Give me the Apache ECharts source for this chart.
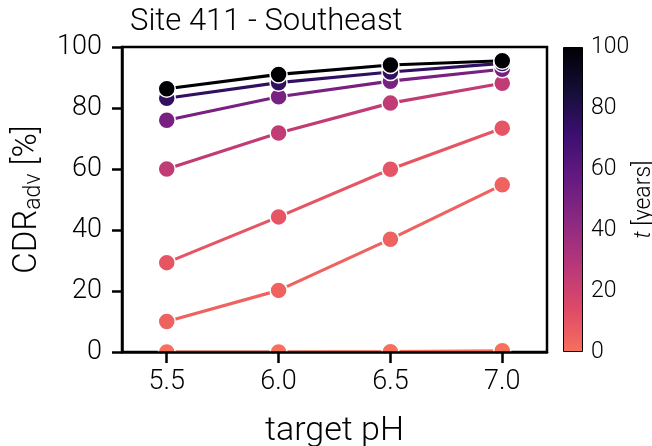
<!DOCTYPE html>
<html>
<head>
<meta charset="utf-8">
<script src="https://cdn.jsdelivr.net/npm/echarts@6/dist/echarts.min.js"></script>
<style>
  html, body { margin: 0; padding: 0; background: #fff; }
  #chart { width: 652px; height: 446px; }
</style>
</head>
<body>
<div id="chart"></div>
<script>
// data
const phValues = [5.5, 6.0, 6.5, 7.0];
const tYears = [0, 5, 10, 25, 50, 75, 100];
const cdr0 = [0, 0, 0.1, 0.4];
const cdr5 = [10.0, 20.2, 37.0, 54.8];
const cdr10 = [29.3, 44.3, 59.9, 73.4];
const cdr25 = [60.0, 71.8, 81.6, 88.1];
const cdr50 = [76.0, 83.7, 88.8, 92.7];
const cdr75 = [83.2, 88.3, 91.8, 94.6];
const cdr100 = [86.3, 91.0, 94.1, 95.5];
const cdrByT = [cdr0, cdr5, cdr10, cdr25, cdr50, cdr75, cdr100];
const xTicks = [5.5, 6.0, 6.5, 7.0];

// magma colormap, 0..0.7 used (t=100 -> 0, t=0 -> 0.7)
const magma = ["#000004", "#140e36", "#3b0f70", "#641a80", "#8c2981",
  "#b73779", "#de4968", "#f7705c"];

function hex2rgb(h) {
  return [1, 3, 5].map((i) => parseInt(h.slice(i, i + 2), 16));
}
function magmaAt(f) {
  const p = Math.min(Math.max(f / 0.1, 0), magma.length - 1);
  const i = Math.min(Math.floor(p), magma.length - 2);
  const r = p - i;
  const a = hex2rgb(magma[i]), b = hex2rgb(magma[i + 1]);
  const c = a.map((v, k) => Math.round(v + (b[k] - v) * r));
  return `rgb(${c[0]},${c[1]},${c[2]})`;
}
const tColor = (t) => magmaAt(0.7 * (1 - t / 100));

const font = "Roboto";
const weight = 300;
const gridLeft = 122, gridTop = 47, gridWidth = 425, gridHeight = 305;

const chart = echarts.init(document.getElementById("chart"));
chart.setOption({
  animation: false,
  textStyle: { fontFamily: font, fontWeight: weight, color: "#000" },
  title: {
    text: "Site 411 - Southeast",
    left: 130,
    top: 7,
    padding: 0,
    textStyle: { fontFamily: font, fontSize: 31, fontWeight: weight, color: "#000" },
  },
  grid: [
    {
      left: gridLeft, top: gridTop, width: gridWidth, height: gridHeight,
      outerBoundsMode: "none",
      show: true, borderColor: "#000", borderWidth: 2.5,
    },
    { left: 563, top: gridTop, width: 20, height: gridHeight, outerBoundsMode: "none" },
  ],
  xAxis: [
    {
      type: "value",
      gridIndex: 0,
      min: 5.3,
      max: 7.2,
      z: 10,
      name: "target pH",
      nameLocation: "middle",
      nameGap: 62,
      nameTextStyle: { fontFamily: font, fontWeight: weight, fontSize: 34, color: "#000" },
      axisLine: { show: true, lineStyle: { color: "#000", width: 2.5 } },
      axisTick: { customValues: xTicks, length: 11, lineStyle: { color: "#000", width: 2.5 } },
      axisLabel: {
        customValues: xTicks,
        formatter: (v) => v.toFixed(1),
        fontSize: 27, fontWeight: weight, margin: 17, color: "#000",
      },
      splitLine: { show: false },
    },
    {
      type: "category",
      gridIndex: 1,
      data: [""],
      show: false,
    },
  ],
  yAxis: [
    {
      type: "value",
      gridIndex: 0,
      min: 0,
      max: 100,
      interval: 20,
      z: 10,
      name: "{a|CDR}{s|adv}{a| [%]}",
      nameLocation: "middle",
      nameGap: 66,
      nameRotate: 90,
      nameTextStyle: {
        rich: {
          a: { fontFamily: font, fontWeight: weight, fontSize: 33, color: "#000", lineHeight: 36 },
          s: { fontFamily: font, fontWeight: weight, fontSize: 23, color: "#000", lineHeight: 18, verticalAlign: "bottom" },
        },
      },
      axisLine: { show: true, lineStyle: { color: "#000", width: 2.5 } },
      axisTick: { length: 10, lineStyle: { color: "#000", width: 2.5 } },
      axisLabel: { fontSize: 27, fontWeight: weight, margin: 20, color: "#000" },
      splitLine: { show: false },
    },
    {
      type: "value",
      gridIndex: 1,
      position: "right",
      min: 0,
      max: 100,
      interval: 20,
      name: "{i|t} [years]",
      nameLocation: "middle",
      nameGap: 48,
      nameRotate: 90,
      nameTextStyle: {
        fontFamily: font, fontWeight: weight, fontSize: 23, color: "#000",
        rich: { i: { fontFamily: font, fontWeight: weight, fontSize: 23, fontStyle: "italic", color: "#000" } },
      },
      axisLine: { show: false },
      axisTick: { length: 6, lineStyle: { color: "#000", width: 1.5 } },
      axisLabel: { fontSize: 23, fontWeight: weight, margin: 8, color: "#000" },
      splitLine: { show: false },
    },
  ],
  // hides the lower halves of the markers sitting on the x axis
  graphic: [
    {
      type: "rect",
      z: 5,
      silent: true,
      shape: { x: gridLeft, y: gridTop + gridHeight + 1.3, width: gridWidth + 2, height: 12 },
      style: { fill: "#fff" },
    },
  ],
  series: [
    ...tYears.map((t, k) => ({
      type: "line",
      xAxisIndex: 0,
      yAxisIndex: 0,
      data: phValues.map((x, i) => [x, cdrByT[k][i]]),
      color: tColor(t),
      lineStyle: { width: 3.2 },
      symbol: "circle",
      symbolSize: 17,
      itemStyle: { borderColor: "#fff", borderWidth: 1.5 },
      emphasis: { disabled: true },
      z: 2,
    })),
    {
      type: "bar",
      xAxisIndex: 1,
      yAxisIndex: 1,
      data: [100],
      barWidth: "100%",
      itemStyle: {
        color: new echarts.graphic.LinearGradient(0, 0, 0, 1,
          magma.map((c, i) => ({ offset: i / (magma.length - 1), color: c }))),
        borderColor: "#000",
        borderWidth: 1,
      },
      emphasis: { disabled: true },
    },
  ],
});
</script>
</body>
</html>
